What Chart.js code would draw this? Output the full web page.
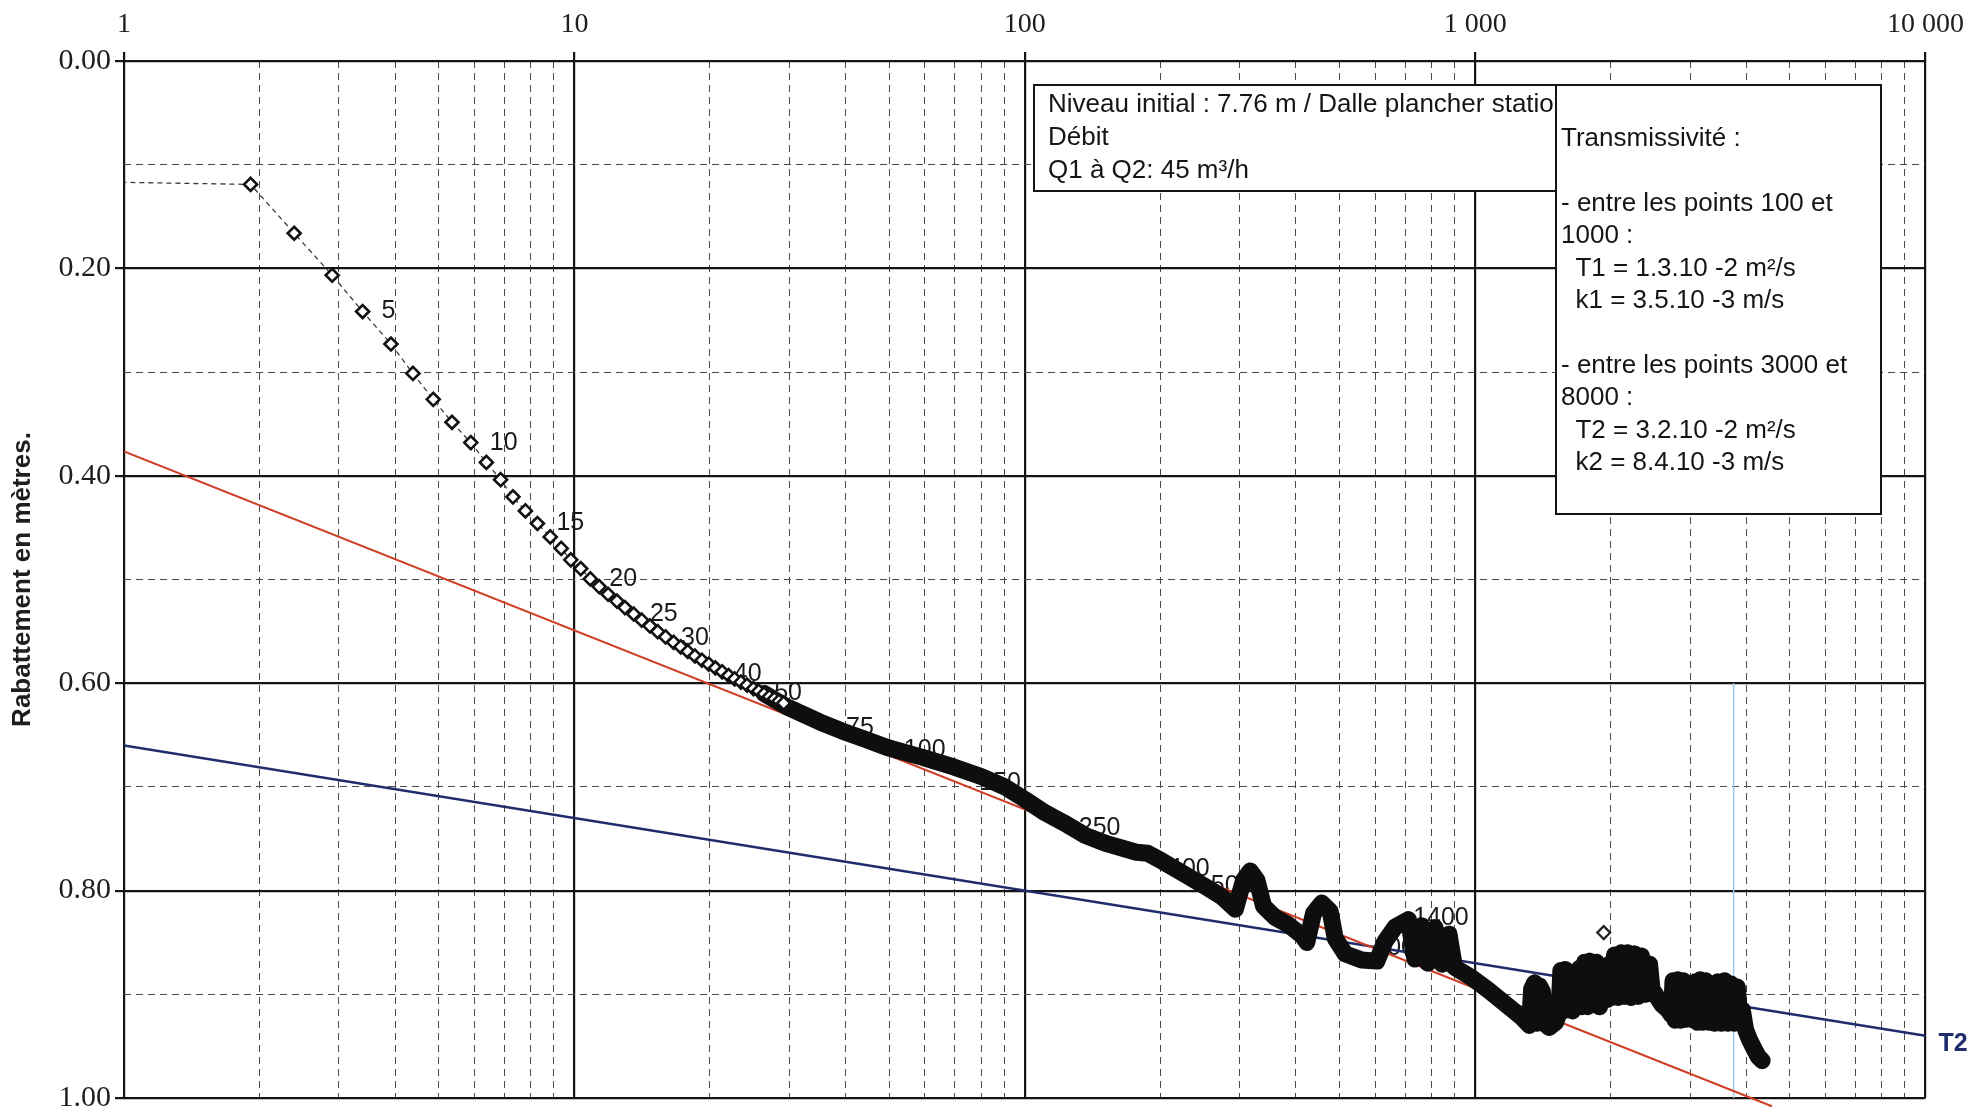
<!DOCTYPE html>
<html>
<head>
<meta charset="utf-8">
<script src="https://cdn.jsdelivr.net/npm/chart.js@4.4.1/dist/chart.umd.min.js"></script>
<style>
  html, body { margin: 0; padding: 0; background: #ffffff; }
  #wrap { width: 1975px; height: 1120px; position: relative; }
  canvas { display: block; }
</style>
</head>
<body>
<div id="wrap"><canvas id="c" width="1975" height="1120"></canvas></div>
<script>
// ---------------- DATA ----------------
// Early measurements (distinct diamonds), time and drawdown (m)
const earlyTime = [0.9, 1.910, 2.387, 2.899, 3.387, 3.915, 4.381, 4.860, 5.349, 5.888,
  6.377, 6.858, 7.305, 7.785, 8.279, 8.839, 9.349, 9.818, 10.33, 10.85,
  11.35, 11.88, 12.43, 12.95, 13.54, 14.11, 14.71, 15.31, 15.94, 16.61,
  17.23, 17.86, 18.52, 19.20, 19.88, 20.57, 21.29, 22.00, 22.69, 23.44,
  24.18, 24.98, 25.67, 26.38, 27.10, 27.80, 28.47, 29.15];
const earlyDraw = [0.1167, 0.1190, 0.1661, 0.2066, 0.2416, 0.2729, 0.3013, 0.3263, 0.3484, 0.3680,
  0.3871, 0.4037, 0.4203, 0.4339, 0.4460, 0.4589, 0.4700, 0.4810, 0.4895, 0.4994,
  0.5068, 0.5142, 0.5208, 0.5271, 0.5333, 0.5392, 0.5447, 0.5503, 0.5554, 0.5606,
  0.5650, 0.5694, 0.5738, 0.5779, 0.5816, 0.5853, 0.5890, 0.5926, 0.5959, 0.5989,
  0.6018, 0.6052, 0.6077, 0.6103, 0.6129, 0.6151, 0.6173, 0.6192];

// Dense measurements (merged into a thick band in the picture)
const bandTime = [26.4, 29.6, 35.1, 39.4, 44.2, 49.5, 59.3, 69.8, 80.0, 90.3,
  100, 111, 122, 136.5, 152.6, 177, 187.4, 202.6, 225.8, 256,
  274, 293.6, 306, 316.7, 327.8, 339, 359.7, 385, 412, 423,
  437.7, 456.6, 476.6, 489, 514.6, 560, 605, 631, 664.6, 711,
  735, 760, 785, 815, 845, 875, 900, 983, 1070, 1165,
  1268, 1320, 1335, 1355, 1372, 1390, 1410, 1435, 1460, 1480,
  1510, 1535, 1550, 1568, 1585, 1605, 1625, 1645, 1660, 1690,
  1705, 1725, 1750, 1775, 1800, 1830, 1860, 1890, 1915, 1935,
  1965, 1985, 2010, 2040, 2075, 2110, 2145, 2180, 2220, 2260,
  2300, 2340, 2390, 2440, 2470, 2530, 2600, 2680, 2730, 2750,
  2780, 2820, 2860, 2900, 2945, 2980, 3020, 3060, 3085, 3120,
  3160, 3200, 3250, 3300, 3350, 3400, 3460, 3520, 3580, 3640,
  3700, 3760, 3820, 3880, 3920, 3985, 4060, 4156, 4250, 4338];
const bandDraw = [0.610, 0.6227, 0.6375, 0.6463, 0.654, 0.662, 0.6715, 0.681, 0.690, 0.700,
  0.712, 0.725, 0.7345, 0.747, 0.755, 0.763, 0.764, 0.772, 0.784, 0.798,
  0.806, 0.818, 0.790, 0.781, 0.790, 0.815, 0.826, 0.833, 0.843, 0.850,
  0.822, 0.812, 0.820, 0.846, 0.861, 0.867, 0.868, 0.849, 0.835, 0.828,
  0.866, 0.834, 0.870, 0.836, 0.871, 0.842, 0.874, 0.884, 0.896, 0.909,
  0.922, 0.930, 0.895, 0.889, 0.928, 0.892, 0.897, 0.929, 0.932, 0.930,
  0.927, 0.918, 0.877, 0.916, 0.876, 0.915, 0.879, 0.916, 0.905, 0.910,
  0.875, 0.912, 0.869, 0.912, 0.868, 0.910, 0.869, 0.912, 0.873, 0.905,
  0.905, 0.871, 0.903, 0.862, 0.903, 0.860, 0.902, 0.860, 0.903, 0.861,
  0.902, 0.863, 0.900, 0.871, 0.895, 0.902, 0.910, 0.915, 0.920, 0.887,
  0.925, 0.886, 0.925, 0.887, 0.924, 0.895, 0.922, 0.925, 0.888, 0.927,
  0.886, 0.927, 0.887, 0.927, 0.890, 0.928, 0.888, 0.928, 0.887, 0.928,
  0.890, 0.928, 0.893, 0.928, 0.915, 0.934, 0.943, 0.952, 0.960, 0.964];

// Isolated outlier point
const outlierTime = [1930];
const outlierDraw = [0.8405];

// Fitted straight lines (Jacob) T1 (red) and T2 (blue)
const t1Time = [1, 4560];
const t1Draw = [0.3766, 1.008];
const t2Time = [1, 10000];
const t2Draw = [0.660, 0.940];

// Light blue vertical marker
const markerTime = [3750, 3750];
const markerDraw = [0.60, 1.00];

// Point number labels
const pointLabels    = ['5', '10', '15', '20', '25', '30', '40', '50', '75', '100', '150', '250', '400', '500', '1000', '1400'];
const pointLabelTime = [3.387, 5.888, 8.279, 10.85, 13.35, 15.66, 20.5, 25.2, 36.4, 48.9, 71.9, 119.6, 188.8, 235, 539, 661];
const pointLabelDraw = [0.2416, 0.3680, 0.4460, 0.4994, 0.533, 0.557, 0.5916, 0.6095, 0.643, 0.665, 0.696, 0.740, 0.779, 0.796, 0.855, 0.827];

// Axis ticks
const xDecades = [1, 10, 100, 1000, 10000];
const xDecadeLabels = ['1', '10', '100', '1 000', '10 000'];
const xMultipliers = [1, 2, 3, 4, 5, 6, 7, 8, 9];
const yGridValues = [0, 0.1, 0.2, 0.3, 0.4, 0.5, 0.6, 0.7, 0.8, 0.9, 1.0];
const yLabelValues = [0, 0.2, 0.4, 0.6, 0.8, 1.0];

// Text boxes
const boxNiveauLines = ['Niveau initial : 7.76 m / Dalle plancher station', 'Débit', 'Q1 à Q2: 45 m³/h'];
const boxTransLines = ['Transmissivité :', '', '- entre les points 100 et', '1000 :', '  T1 = 1.3.10 -2 m²/s', '  k1 = 3.5.10 -3 m/s',
  '', '- entre les points 3000 et', '8000 :', '  T2 = 3.2.10 -2 m²/s', '  k2 = 8.4.10 -3 m/s'];
const yTitle = 'Rabattement en mètres.';
const t2Label = 'T2';

// ---------------- helpers ----------------
const toXY = (xs, ys) => xs.map((x, i) => ({x: x, y: ys[i]}));
const xGridValues = [];
xDecades.forEach((d, i) => {
  if (i === xDecades.length - 1) { xGridValues.push(d); return; }
  xMultipliers.forEach(m => xGridValues.push(d * m));
});
const isDecade = v => xDecades.some(d => Math.abs(v - d) / d < 1e-6);
const isYLabel = v => yLabelValues.some(d => Math.abs(v - d) < 1e-6);

const SANS = '"Liberation Sans", Arial, Helvetica, sans-serif';
const SERIF = '"Liberation Serif", "Times New Roman", serif';

const overlayPlugin = {
  id: 'overlay',
  beforeDatasetsDraw(chart) {
    const ctx = chart.ctx, xs = chart.scales.x, ys = chart.scales.y;
    ctx.save();
    ctx.font = '25px ' + SANS;
    ctx.fillStyle = '#1a1a1a';
    ctx.textAlign = 'left';
    ctx.textBaseline = 'middle';
    pointLabels.forEach((t, i) => {
      const px = xs.getPixelForValue(pointLabelTime[i]);
      const py = ys.getPixelForValue(pointLabelDraw[i]);
      ctx.fillText(t, px + 19, py);
    });
    ctx.restore();
  },
  afterDraw(chart) {
    const ctx = chart.ctx, xs = chart.scales.x, ys = chart.scales.y;
    ctx.save();
    // Box 1
    ctx.fillStyle = '#ffffff';
    ctx.strokeStyle = '#151515';
    ctx.lineWidth = 2;
    ctx.fillRect(1034, 85, 600, 106);
    ctx.strokeRect(1034, 85, 600, 106);
    ctx.font = '26px ' + SANS;
    ctx.fillStyle = '#151515';
    ctx.textAlign = 'left';
    ctx.textBaseline = 'middle';
    boxNiveauLines.forEach((t, i) => ctx.fillText(t, 1048, 105 + i * 32.7));
    // Box 2
    ctx.fillStyle = '#ffffff';
    ctx.fillRect(1556, 85, 325, 429);
    ctx.strokeRect(1556, 85, 325, 429);
    ctx.fillStyle = '#151515';
    boxTransLines.forEach((t, i) => ctx.fillText(t, 1561, 139 + i * 32.4));
    // T2 label
    ctx.font = 'bold 25px ' + SANS;
    ctx.fillStyle = '#1f2d6b';
    const ex = xs.getPixelForValue(t2Time[1]);
    const ey = ys.getPixelForValue(t2Draw[1]);
    ctx.fillText(t2Label, ex + 13, ey + 8);
    ctx.restore();
  }
};

const ctx = document.getElementById('c').getContext('2d');
new Chart(ctx, {
  type: 'scatter',
  data: {
    datasets: [
      {
        label: 'marker',
        data: toXY(markerTime, markerDraw),
        showLine: true, borderColor: '#9fcbe8', borderWidth: 1.5,
        pointRadius: 0, order: 4
      },
      {
        label: 'T1',
        data: toXY(t1Time, t1Draw),
        showLine: true, borderColor: '#cf3f25', borderWidth: 2,
        pointRadius: 0, order: 3,
        clip: {left: 0, top: 0, right: 0, bottom: 10}
      },
      {
        label: 'T2',
        data: toXY(t2Time, t2Draw),
        showLine: true, borderColor: '#1f2d6b', borderWidth: 2.5,
        pointRadius: 0, order: 3
      },
      {
        label: 'band',
        data: toXY(bandTime, bandDraw),
        showLine: true, borderColor: '#0e0e0e', borderWidth: 17,
        borderJoinStyle: 'round', borderCapStyle: 'round',
        pointRadius: 0, order: 2
      },
      {
        label: 'early',
        data: toXY(earlyTime, earlyDraw),
        showLine: true, borderColor: '#3a3a3a', borderWidth: 1.3, borderDash: [5, 4],
        pointStyle: 'rectRot', pointRadius: 6.5, pointBorderWidth: 2.6,
        pointBorderColor: '#111111', pointBackgroundColor: '#ffffff',
        order: 1
      },
      {
        label: 'outlier',
        data: toXY(outlierTime, outlierDraw),
        showLine: false,
        pointStyle: 'rectRot', pointRadius: 6.5, pointBorderWidth: 2.2,
        pointBorderColor: '#222222', pointBackgroundColor: '#ffffff',
        order: 0
      }
    ]
  },
  options: {
    responsive: false,
    animation: false,
    devicePixelRatio: 1,
    events: [],
    layout: { padding: { left: 0, top: 0, right: 48, bottom: 12 } },
    plugins: { legend: { display: false }, tooltip: { enabled: false } },
    scales: {
      x: {
        type: 'logarithmic',
        position: 'top',
        min: 1, max: 10000,
        afterFit: s => { s.height = 61; },
        afterBuildTicks: s => { s.ticks = xGridValues.map(v => ({value: v})); },
        ticks: {
          autoSkip: false, maxRotation: 0, minRotation: 0, padding: 11,
          font: { family: SERIF, size: 28 }, color: '#1e1e1e',
          callback: v => { const i = xDecades.findIndex(d => Math.abs(v - d) / d < 1e-6); return i >= 0 ? xDecadeLabels[i] : ''; }
        },
        grid: {
          color: c => (c.tick && isDecade(c.tick.value)) ? '#141414' : '#4a4a4a',
          lineWidth: c => (c.tick && isDecade(c.tick.value)) ? 2.2 : 1,
          tickColor: c => (c.tick && isDecade(c.tick.value)) ? '#141414' : 'rgba(0,0,0,0)',
          tickLength: 9, tickWidth: 2.2
        },
        border: {
          display: false,
          dash: c => (c.tick && isDecade(c.tick.value)) ? [] : [7, 5]
        }
      },
      y: {
        type: 'linear',
        reverse: true,
        min: 0, max: 1,
        afterFit: s => { s.width = 124; },
        afterBuildTicks: s => { s.ticks = yGridValues.map(v => ({value: v})); },
        ticks: {
          autoSkip: false, padding: 4,
          font: { family: SERIF, size: 30 }, color: '#1e1e1e',
          callback: v => isYLabel(v) ? v.toFixed(2) : ''
        },
        grid: {
          color: c => (c.tick && isYLabel(c.tick.value)) ? '#141414' : '#4a4a4a',
          lineWidth: c => (c.tick && isYLabel(c.tick.value)) ? 2.2 : 1,
          tickColor: c => (c.tick && isYLabel(c.tick.value)) ? '#141414' : 'rgba(0,0,0,0)',
          tickLength: 9, tickWidth: 2.2
        },
        border: {
          display: false,
          dash: c => (c.tick && isYLabel(c.tick.value)) ? [] : [7, 5]
        },
        title: {
          display: true, text: yTitle, color: '#1e1e1e',
          font: { family: SANS, size: 26, weight: 'bold' },
          padding: { top: 7, bottom: 0 }
        }
      }
    }
  },
  plugins: [overlayPlugin]
});
</script>
</body>
</html>
